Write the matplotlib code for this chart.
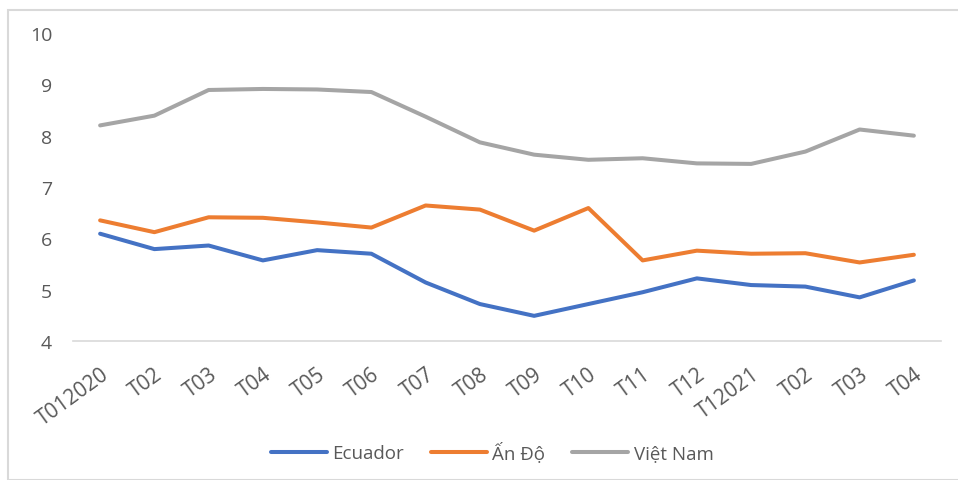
import matplotlib
matplotlib.use("Agg")
import matplotlib.pyplot as plt
from matplotlib.patches import Rectangle

plt.rcParams['font.family'] = ['Open Sans', 'DejaVu Sans']

categories = ["T012020", "T02", "T03", "T04", "T05", "T06", "T07", "T08",
              "T09", "T10", "T11", "T12", "T12021", "T02", "T03", "T04"]
ecuador = [6.09, 5.79, 5.86, 5.57, 5.77, 5.70, 5.14, 4.72,
           4.49, 4.72, 4.95, 5.22, 5.09, 5.06, 4.85, 5.18]
an_do = [6.35, 6.12, 6.41, 6.40, 6.31, 6.21, 6.64, 6.56,
         6.15, 6.59, 5.57, 5.76, 5.70, 5.71, 5.53, 5.68]
viet_nam = [8.20, 8.39, 8.89, 8.91, 8.90, 8.85, 8.37, 7.87,
            7.63, 7.53, 7.56, 7.46, 7.45, 7.69, 8.12, 8.00]
series_names = ["Ecuador", "Ấn Độ", "Việt Nam"]
colors = ["#4472C4", "#ED7D31", "#A5A5A5"]
yticks = [4, 5, 6, 7, 8, 9, 10]

W, H = 958, 481
fig = plt.figure(figsize=(W / 100, H / 100), dpi=100)
fig.patches.append(Rectangle((8 / W, 0), 1.0, 1 - 11 / H, transform=fig.transFigure,
                             fill=False, edgecolor="#D9D9D9", linewidth=1.5))

ax = fig.add_axes([73 / W, 1 - 342 / H, (941 - 73) / W, (342 - 34) / H])
x = list(range(len(categories)))
for vals, name, c in zip([ecuador, an_do, viet_nam], series_names, colors):
    ax.plot(x, vals, color=c, linewidth=2.9, label=name, solid_joinstyle="round",
            solid_capstyle="round")

ax.set_xlim(-0.5, len(categories) - 0.5)
ax.set_ylim(4, 10)
ax.set_yticks(yticks)
ax.set_yticklabels([str(v) for v in yticks])
ax.set_xticks(x)
ax.set_xticklabels(categories, rotation=36, ha="right", rotation_mode="anchor")
ax.tick_params(axis="both", length=0, colors="#595959")
ax.tick_params(axis="y", pad=15, labelsize=14)
ax.tick_params(axis="x", pad=16, labelsize=15)
for s in ["top", "right", "left"]:
    ax.spines[s].set_visible(False)
ax.spines["bottom"].set_color("#D9D9D9")
ax.spines["bottom"].set_linewidth(1.2)

fig.legend(loc="center", bbox_to_anchor=(492 / W, 1 - 453 / H), ncol=3,
           frameon=False, fontsize=13.5, handlelength=3.0, columnspacing=1.4,
           handletextpad=0.3, labelcolor="#595959")

fig.savefig("out.png", dpi=100)
